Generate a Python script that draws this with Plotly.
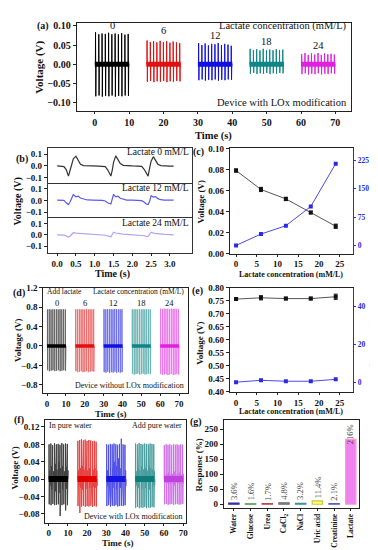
import plotly.graph_objects as go

W, H = 378, 550
FONT = "Liberation Serif"

# ---------------- data ----------------
group_labels = ["0", "6", "12", "18", "24"]
group_starts = [0, 15, 30, 45, 60]
spike_offsets = [0.2, 1.15, 2.1, 3.05, 4.0, 4.95, 5.9, 6.85, 7.8, 8.75, 9.7]
group_colors = ["#000000", "#e01010", "#1010e0", "#0f8585", "#e020e0"]

# (a) with LOx: positive / negative spike peaks (V)
a_hi = [
    [0.083, 0.078, 0.080, 0.079, 0.082, 0.078, 0.080, 0.078, 0.081, 0.077, 0.079],
    [0.062, 0.058, 0.060, 0.057, 0.061, 0.058, 0.060, 0.056, 0.059, 0.057, 0.055],
    [0.055, 0.050, 0.054, 0.049, 0.053, 0.052, 0.055, 0.050, 0.053, 0.051, 0.048],
    [0.040, 0.037, 0.039, 0.036, 0.040, 0.037, 0.038, 0.036, 0.039, 0.037, 0.038],
    [0.026, 0.029, 0.024, 0.028, 0.025, 0.029, 0.024, 0.028, 0.026, 0.027, 0.025],
]
a_lo = [
    [-0.084, -0.082, -0.085, -0.083, -0.084, -0.082, -0.085, -0.083, -0.084, -0.082, -0.083],
    [-0.046, -0.044, -0.047, -0.045, -0.046, -0.044, -0.047, -0.045, -0.046, -0.044, -0.045],
    [-0.042, -0.040, -0.043, -0.041, -0.042, -0.040, -0.043, -0.041, -0.042, -0.040, -0.041],
    [-0.025, -0.023, -0.026, -0.024, -0.025, -0.023, -0.026, -0.024, -0.025, -0.023, -0.024],
    [-0.026, -0.024, -0.027, -0.025, -0.026, -0.024, -0.027, -0.025, -0.026, -0.024, -0.025],
]

# (b) single-pulse waveforms
b_time = [0.00, 0.10, 0.18, 0.24, 0.30, 0.34, 0.38, 0.43, 0.50, 0.56, 0.62, 0.70, 0.80, 0.95,
          1.10, 1.20, 1.28, 1.34, 1.43, 1.47, 1.50, 1.56, 1.62, 1.68, 1.76, 1.85, 2.00, 2.15,
          2.25, 2.32, 2.37, 2.42, 2.46, 2.50, 2.56, 2.62, 2.68, 2.76, 2.85, 3.00, 3.10]
b_v0 = [0.000, -0.002, -0.005, -0.030, -0.085, -0.040, 0.010, 0.060, 0.082, 0.050, 0.015, 0.003, 0.000, 0.000,
        -0.002, -0.003, -0.006, -0.030, -0.085, -0.030, 0.030, 0.085, 0.055, 0.020, 0.005, 0.001, 0.000, -0.002,
        -0.004, -0.030, -0.060, -0.085, -0.020, 0.040, 0.078, 0.045, 0.015, 0.003, 0.000, -0.002, -0.002]
b_v12 = [0.003, 0.002, 0.000, -0.020, -0.035, -0.015, 0.020, 0.050, 0.030, 0.035, 0.020, 0.010, 0.004, 0.002,
         0.002, 0.000, -0.005, -0.020, -0.030, 0.010, 0.050, 0.030, 0.035, 0.018, 0.008, 0.003, 0.002, 0.000,
         -0.002, -0.015, -0.030, -0.035, -0.010, 0.040, 0.028, 0.032, 0.015, 0.006, 0.002, 0.003, 0.002]
b_v24 = [0.000, 0.000, -0.002, -0.010, -0.020, -0.012, 0.005, 0.018, 0.015, 0.014, 0.012, 0.010, 0.006, 0.004,
         0.002, 0.000, -0.004, -0.010, -0.018, 0.005, 0.022, 0.016, 0.012, 0.010, 0.006, 0.004, 0.002, 0.000,
         -0.002, -0.008, -0.014, -0.016, 0.005, 0.022, 0.015, 0.012, 0.008, 0.005, 0.003, 0.001, 0.000]
b_names = ["Lactate 0 mM/L", "Lactate 12 mM/L", "Lactate 24 mM/L"]
b_colors = ["#333333", "#5b5bea", "#b3a2ef"]

# (c) with LOx
conc = [0, 6, 12, 18, 24]
c_volt = [0.0790, 0.0610, 0.0520, 0.0390, 0.0260]
c_err = [0.0015, 0.0020, 0.0016, 0.0012, 0.0020]
c_resp = [0, 30, 52, 103, 216]

# (d) without LOx
d_hi = [
    [0.755, 0.760, 0.752, 0.758, 0.756, 0.760, 0.754, 0.758, 0.756, 0.759, 0.755],
    [0.758, 0.755, 0.760, 0.756, 0.758, 0.754, 0.760, 0.756, 0.758, 0.755, 0.757],
    [0.760, 0.757, 0.762, 0.758, 0.760, 0.756, 0.762, 0.758, 0.760, 0.757, 0.759],
    [0.758, 0.756, 0.760, 0.757, 0.759, 0.755, 0.760, 0.757, 0.759, 0.756, 0.758],
    [0.770, 0.765, 0.772, 0.766, 0.770, 0.764, 0.772, 0.766, 0.770, 0.765, 0.768],
]
d_lo = [
    [-0.50, -0.52, -0.51, -0.50, -0.52, -0.51, -0.50, -0.52, -0.51, -0.50, -0.51],
    [-0.52, -0.54, -0.53, -0.52, -0.54, -0.53, -0.52, -0.54, -0.53, -0.52, -0.53],
    [-0.54, -0.55, -0.53, -0.55, -0.54, -0.55, -0.53, -0.55, -0.54, -0.55, -0.54],
    [-0.57, -0.59, -0.58, -0.57, -0.59, -0.58, -0.57, -0.59, -0.58, -0.57, -0.58],
    [-0.58, -0.60, -0.59, -0.58, -0.60, -0.59, -0.58, -0.60, -0.59, -0.58, -0.59],
]

# (e) without LOx
e_volt = [0.757, 0.762, 0.759, 0.759, 0.766]
e_err = [0.004, 0.008, 0.005, 0.005, 0.010]
e_resp = [0.0, 1.0, 0.5, 0.5, 1.5]

# (f) pure water
f_colors = ["#000000", "#e00000", "#1515e0", "#0e7c7c", "#c040e0"]
f_hi = [
    [0.080, 0.082, 0.078, 0.083, 0.080, 0.081, 0.079, 0.083, 0.080, 0.082, 0.081],
    [0.088, 0.090, 0.092, 0.089, 0.091, 0.088, 0.090, 0.089, 0.087, 0.088, 0.086],
    [0.080, 0.079, 0.081, 0.080, 0.082, 0.080, 0.079, 0.081, 0.093, 0.080, 0.079],
    [0.082, 0.080, 0.083, 0.081, 0.080, 0.082, 0.081, 0.080, 0.082, 0.081, 0.080],
    [0.078, 0.080, 0.079, 0.080, 0.078, 0.080, 0.079, 0.080, 0.078, 0.080, 0.079],
]
f_lo = [
    [-0.058, -0.060, -0.057, -0.060, -0.059, -0.058, -0.085, -0.060, -0.058, -0.072, -0.060],
    [-0.062, -0.078, -0.063, -0.061, -0.064, -0.062, -0.063, -0.061, -0.064, -0.062, -0.063],
    [-0.062, -0.060, -0.063, -0.061, -0.062, -0.060, -0.063, -0.062, -0.061, -0.062, -0.060],
    [-0.066, -0.064, -0.067, -0.065, -0.066, -0.064, -0.067, -0.065, -0.066, -0.064, -0.065],
    [-0.058, -0.057, -0.059, -0.058, -0.057, -0.059, -0.058, -0.057, -0.059, -0.058, -0.057],
]
f_mid = [
    [0.020, 0.030, 0.018, 0.035, 0.022, 0.040, 0.025, 0.030, 0.018, 0.028, 0.020],
    [0.020, 0.025, 0.030, 0.022, 0.028, 0.020, 0.025, 0.030, 0.022, 0.025, 0.020],
    [0.020, 0.035, 0.045, 0.025, 0.040, 0.030, 0.048, 0.025, 0.030, 0.035, 0.020],
    [0.018, 0.025, 0.020, 0.030, 0.022, 0.025, 0.020, 0.030, 0.025, 0.022, 0.018],
    [0.010, 0.012, 0.015, 0.010, 0.012, 0.018, 0.010, 0.012, 0.015, 0.010, 0.012],
]

# (g) selectivity
g_cats = ["Water", "Glucose", "Urea", "CaCl<sub>2</sub>", "NaCl", "Uric acid", "Creatinine", "Lactate"]
g_vals = [3.6, 1.6, 1.7, 4.8, 3.2, 11.4, 2.1, 216]
g_text = ["3.6%", "1.6%", "1.7%", "4.8%", "3.2%", "11.4%", "2.1%", "216%"]
g_colors = ["#4b4bd6", "#6fbf6f", "#e07070", "#9a9a9a", "#66c2c2", "#ffff70", "#8a8aff", "#ee82ee"]
g_lines = ["#3030a0", "#4a9a4a", "#b05050", "#707070", "#409090", "#c8c840", "#6060c0", "#ff99cc"]


# ---------------- helpers ----------------
def xd(p0, p1):
    return [p0 / W, p1 / W]


def yd(p0, p1):
    return [1 - p1 / H, 1 - p0 / H]


def spikes(start, his, los, mids=None, span=10):
    xs, ys = [start], [0]
    for k, off in enumerate(spike_offsets):
        t = start + off
        xs += [t - 0.04, t, t + 0.08, t + 0.16]
        ys += [0, his[k], los[k], 0]
        if mids is not None:
            xs += [t + 0.35, t + 0.45, t + 0.55]
            ys += [mids[k], -0.8 * mids[k], 0]
    xs.append(start + span)
    ys.append(0)
    return xs, ys


def tf(size=9, color="#111"):
    return dict(family=FONT, size=size, color=color, weight="bold")


def axis(**kw):
    base = dict(showline=True, linecolor="#222", linewidth=1, mirror=True, ticks="outside",
                ticklen=3, tickwidth=1, tickcolor="#222", showgrid=False, zeroline=False,
                tickfont=tf())
    base.update(kw)
    return base


annotations = []


def ann(text, px, py, size=9, bold=True, xanchor="center", yanchor="middle", angle=0,
        color="#111"):
    annotations.append(dict(
        text=text, x=px / W, y=1 - py / H, xref="paper", yref="paper", showarrow=False,
        xanchor=xanchor, yanchor=yanchor, textangle=angle,
        font=dict(family=FONT, size=size, color=color, weight="bold" if bold else "normal")))


fig = go.Figure()

# ---------------- (a) ----------------
for i in range(5):
    xs, ys = spikes(group_starts[i], a_hi[i], a_lo[i])
    fig.add_trace(go.Scatter(x=xs, y=ys, mode="lines", line=dict(color=group_colors[i], width=1),
                             xaxis="x", yaxis="y", showlegend=False))
    fig.add_trace(go.Scatter(x=[group_starts[i], group_starts[i] + 10], y=[0, 0], mode="lines",
                             line=dict(color=group_colors[i], width=5), xaxis="x", yaxis="y",
                             showlegend=False))

# ---------------- (b) ----------------
for k, v in enumerate([b_v0, b_v12, b_v24]):
    fig.add_trace(go.Scatter(x=b_time, y=v, mode="lines", line=dict(color=b_colors[k], width=1.2),
                             xaxis="x%d" % (k + 2), yaxis="y%d" % (k + 2), showlegend=False))

# ---------------- (c) ----------------
fig.add_trace(go.Scatter(x=conc, y=c_volt, mode="lines+markers", xaxis="x5", yaxis="y5",
                         line=dict(color="#555", width=1), marker=dict(symbol="square", size=4, color="#111"),
                         error_y=dict(type="data", array=c_err, color="#111", thickness=1, width=2),
                         showlegend=False))
fig.add_trace(go.Scatter(x=conc, y=c_resp, mode="lines+markers", xaxis="x5", yaxis="y6",
                         line=dict(color="#4a4af0", width=1), marker=dict(symbol="square", size=4, color="#2a2ae0"),
                         showlegend=False))

# ---------------- (d) ----------------
for i in range(5):
    xs, ys = spikes(group_starts[i], d_hi[i], d_lo[i])
    fig.add_trace(go.Scatter(x=xs, y=ys, mode="lines", line=dict(color=group_colors[i], width=1),
                             opacity=0.6, xaxis="x6", yaxis="y7", showlegend=False))
    fig.add_trace(go.Scatter(x=[group_starts[i], group_starts[i] + 10], y=[0, 0], mode="lines",
                             line=dict(color=group_colors[i], width=3.5), xaxis="x6", yaxis="y7",
                             showlegend=False))

# ---------------- (e) ----------------
fig.add_trace(go.Scatter(x=conc, y=e_volt, mode="lines+markers", xaxis="x7", yaxis="y8",
                         line=dict(color="#555", width=1), marker=dict(symbol="square", size=4, color="#111"),
                         error_y=dict(type="data", array=e_err, color="#111", thickness=1, width=2),
                         showlegend=False))
fig.add_trace(go.Scatter(x=conc, y=e_resp, mode="lines+markers", xaxis="x7", yaxis="y9",
                         line=dict(color="#4a4af0", width=1), marker=dict(symbol="square", size=4, color="#2a2ae0"),
                         showlegend=False))

# ---------------- (f) ----------------
for i in range(5):
    xs, ys = spikes(group_starts[i], f_hi[i], f_lo[i], f_mid[i])
    fig.add_trace(go.Scatter(x=xs, y=ys, mode="lines", line=dict(color=f_colors[i], width=1),
                             opacity=0.75, xaxis="x8", yaxis="y10", showlegend=False))
    fig.add_trace(go.Scatter(x=[group_starts[i], group_starts[i] + 10], y=[0, 0], mode="lines",
                             line=dict(color=f_colors[i], width=6), xaxis="x8", yaxis="y10",
                             showlegend=False))

# ---------------- (g) ----------------
fig.add_trace(go.Bar(x=g_cats, y=g_vals, marker=dict(color=g_colors, line=dict(color=g_lines, width=1.2)),
                     width=0.62, xaxis="x9", yaxis="y11", showlegend=False))
for k in range(len(g_cats)):
    annotations.append(dict(text=g_text[k], x=g_cats[k], y=g_vals[k], xref="x9", yref="y11",
                            showarrow=False, textangle=-90, yanchor="bottom",
                            yshift=(-7 if g_vals[k] > 200 else 1),
                            font=dict(family=FONT, size=8.5, color="#444")))

# ---------------- layout ----------------
BLUE = "#2a2ae8"
BLINE = dict(linewidth=0.8, linecolor="#333")
layout = dict(
    width=W, height=H, margin=dict(l=0, r=0, t=0, b=0), autosize=False,
    paper_bgcolor="white", plot_bgcolor="white", showlegend=False,
    # (a)
    xaxis=axis(domain=xd(69, 345), anchor="y", range=[-5.3, 74.6], dtick=10, tick0=0, ticklen=2,
               tickfont=tf(10)),
    yaxis=axis(domain=yd(10, 100), anchor="x", range=[-0.123, 0.108], dtick=0.05, tick0=0,
               tickformat=".2f", tickfont=tf(10)),
    # (b)  -- stacked panels share boundaries: draw each boundary line once
    xaxis2=axis(domain=xd(40, 185), anchor="y2", range=[-0.25, 3.59], showticklabels=False, ticks="",
                side="top", mirror=False, **BLINE),
    yaxis2=axis(domain=yd(137, 174), anchor="x2", range=[-0.15, 0.155], tickvals=[-0.1, 0, 0.1],
                tickformat=".1f", **BLINE),
    xaxis3=axis(domain=xd(40, 185), anchor="y3", range=[-0.25, 3.59], showticklabels=False, ticks="",
                side="top", mirror=False, **BLINE),
    yaxis3=axis(domain=yd(174, 209), anchor="x3", range=[-0.15, 0.14], tickvals=[-0.1, 0, 0.1],
                tickformat=".1f", **BLINE),
    xaxis4=axis(domain=xd(40, 185), anchor="y4", range=[-0.25, 3.59], tickvals=[0, 0.5, 1, 1.5, 2, 2.5, 3],
                tickformat=".1f", **BLINE),
    yaxis4=axis(domain=yd(209, 244), anchor="x4", range=[-0.155, 0.145], tickvals=[-0.1, 0, 0.1],
                tickformat=".1f", **BLINE),
    # (c)
    xaxis5=axis(domain=xd(223, 347), anchor="y5", range=[-1.5, 28.2], dtick=5, tick0=0, ticklen=2),
    yaxis5=axis(domain=yd(138, 245), anchor="x5", range=[0, 0.1], dtick=0.02, tick0=0, tickformat=".2f"),
    yaxis6=axis(overlaying="y5", side="right", anchor="x5", range=[-21.5, 256], tickvals=[0, 75, 150, 225],
                mirror=False, linecolor=BLUE, tickcolor=BLUE, ticklen=2, tickfont=tf(7.5, BLUE)),
    # (d)
    xaxis6=axis(domain=xd(35.5, 180.5), anchor="y7", range=[-2, 74.5], dtick=10, tick0=0, ticklen=2),
    yaxis7=axis(domain=yd(280, 387), anchor="x6", range=[-0.97, 1.2],
                tickvals=[-0.8, -0.4, 0, 0.4, 0.8, 1.2], tickformat=".1f"),
    # (e)
    xaxis7=axis(domain=xd(223, 347), anchor="y8", range=[-1.5, 28.2], dtick=5, tick0=0, ticklen=2),
    yaxis8=axis(domain=yd(280, 386), anchor="x7", range=[0.4, 0.8], dtick=0.05, tick0=0.4, tickformat=".2f"),
    yaxis9=axis(overlaying="y8", side="right", anchor="x7", range=[-5.2, 50], tickvals=[0, 20, 40],
                mirror=False, linecolor=BLUE, tickcolor=BLUE, ticklen=2, tickfont=tf(7.5, BLUE)),
    # (f)
    xaxis8=axis(domain=xd(37.5, 179), anchor="y10", range=[-1.75, 71.5], dtick=10, tick0=0, ticklen=2),
    yaxis10=axis(domain=yd(415, 519), anchor="x8", range=[-0.10, 0.135],
                 tickvals=[-0.08, -0.04, 0, 0.04, 0.08, 0.12], tickformat=".2f"),
    # (g)
    xaxis9=axis(domain=xd(217, 353), anchor="y11", range=[-0.6, 7.5], tickangle=-90, ticklen=2,
                tickfont=tf(7.5)),
    yaxis11=axis(domain=yd(415, 504), anchor="x9", range=[-12, 279], dtick=50, tick0=0),
)

# ---------------- text ----------------
# (a)
ann("(a)", 35, 13, size=10)
ann("Voltage (V)", 32, 55, size=11, angle=-90)
ann("Time (s)", 207, 125, size=10.5)
ann("Lactate concentration (mM/L)", 343, 13, size=10.5, bold=False, xanchor="right")
ann("Device with LOx modification", 343, 91, size=10.5, bold=False, xanchor="right")
a_lab_y = [0.100, 0.089, 0.074, 0.058, 0.048]
for i in range(5):
    annotations.append(dict(text=group_labels[i], x=group_starts[i] + 5, y=a_lab_y[i], xref="x", yref="y",
                            showarrow=False, font=dict(family=FONT, size=10.5, color="#111")))
# (b)
ann("(b)", 14, 149, size=10)
ann("Voltage (V)", 10, 192, size=10, angle=-90)
ann("Time (s)", 105, 266, size=10)
for k, py in enumerate([142, 178.5, 214]):
    ann(b_names[k], 184, py, size=9.5, bold=False, xanchor="right")
# (c)
ann("(c)", 192, 142, size=10)
ann("Voltage (V)", 194, 192, size=9, angle=-90)
ann("Response (%)", 368, 192, size=8, angle=-90, color=BLUE)
ann("Lactate concentration (mM/L)", 285, 266, size=8)
# (d)
ann("(d)", 11, 285, size=10)
ann("Voltage (V)", 10, 333, size=9, angle=-90)
ann("Time (s)", 104, 408.5, size=9)
ann("Add lactate", 37, 284, size=7.5, bold=False, xanchor="left")
ann("Lactate concentration (mM/L)", 179, 284, size=7.5, bold=False, xanchor="right")
ann("Device without LOx modification", 179, 379, size=8, bold=False, xanchor="right")
for i in range(5):
    annotations.append(dict(text=group_labels[i], x=group_starts[i] + 5, y=0.88, xref="x6", yref="y7",
                            showarrow=False, font=dict(family=FONT, size=8.5, color="#111")))
# (e)
ann("(e)", 191, 283, size=10)
ann("Voltage (V)", 193, 336, size=9, angle=-90)
ann("Response (%)", 368, 336, size=8, angle=-90, color=BLUE)
ann("Lactate concentration (mM/L)", 285, 406, size=8)
# (f)
ann("(f)", 11, 415, size=10)
ann("Voltage (V)", 7, 463, size=9, angle=-90)
ann("Time (s)", 111, 540, size=9)
ann("In pure water", 39, 420, size=8, bold=False, xanchor="left")
ann("Add pure water", 177, 420, size=8, bold=False, xanchor="right")
ann("Device with LOx modification", 177, 513, size=8, bold=False, xanchor="right")
# (g)
ann("(g)", 189, 417, size=10)
ann("Response (%)", 192, 460, size=9, angle=-90)

layout["annotations"] = annotations
fig.update_layout(**layout)
fig.write_html("out.html")
